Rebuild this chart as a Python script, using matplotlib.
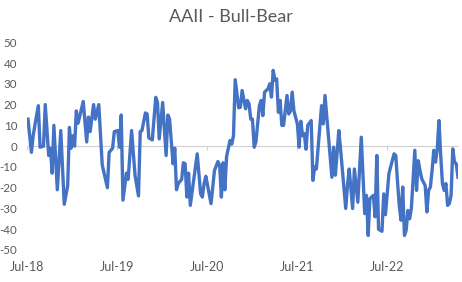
import matplotlib
matplotlib.use('Agg')
import matplotlib.pyplot as plt
import matplotlib.dates as mdates
import pandas as pd

# weekly AAII bull-bear spread
start = '2018-07-05'
weeks = [0, 2, 3, 4, 6, 7, 9, 10, 12, 13, 14, 15, 17, 19, 21, 23, 24, 25, 26, 27,
         28, 29, 32, 34, 35, 36, 38, 39, 41, 43, 46, 47, 49, 50, 52, 53, 54, 55, 57, 58,
         60, 62, 64, 65, 66, 68, 69, 70, 72, 74, 75, 76, 78, 80, 81, 82, 84, 85, 86, 87,
         89, 90, 91, 92, 93, 94, 96, 98, 100, 101, 102, 103, 106, 108, 110, 111, 112, 113, 114, 115,
         117, 118, 119, 120, 122, 123, 124, 126, 127, 128, 129, 130, 131, 132, 134, 135, 136, 137, 139, 140,
         141, 142, 143, 144, 145, 146, 147, 148, 150, 151, 152, 153, 154, 156, 157, 158, 159, 160, 161, 162,
         164, 165, 166, 167, 170, 171, 172, 174, 176, 177, 178, 180, 181, 182, 184, 185, 186, 188, 189, 191,
         193, 195, 196, 197, 198, 200, 201, 202, 203, 205, 206, 207, 209, 210, 212, 213, 214, 215, 216, 217,
         218, 219, 220, 221, 222, 224, 225, 226, 227, 228, 230, 231, 232, 233, 234, 235, 236, 237, 238, 239,
         240, 241, 242, 243, 244, 245, 246, 247, 248, 249]
spread = [13, -3, 5, 10, 19.5, -0.5, 0, 20, -4.5, -1, -13, 10, -21, 7.5, -28, -19, 9, -1, 5, 0,
          17, 11, 21.5, 2, 14, 7, 20, 13, 20, -9, -20, -3, -1, 7, 7.5, -0.5, 15, -26, -13, -16,
          7.5, -14, -24, 7, 7.5, 16, 15.5, 4, 3, 23.5, 21, 3.5, 21, -4.5, 15, 13, -8.5, -1, -21, -18,
          -16, -8, -8.5, -24.5, -13, -28.5, -16, -3.7, -23, -24.5, -18, -14.5, -27.7, -11.7, -7.4, -9.3, -24.5, -8, -21, -5,
          2.7, 1, 5, 32, 18.5, 18.75, 26.8, 18, 22, 20.4, 13, 13, -0.5, 2, 19.5, 22, 14.7, 26, 27.6, 30,
          23.6, 36.5, 31.6, 32.4, 16.3, 22, 10, 10, 24.4, 15.5, 17, 26, 17, 10.7, -0.5, 12, 5, 6, -1.5, 10,
          12.3, -16.5, -10, -11, 19.5, 10.7, 24.4, 5, -15, -0.5, -14, 7.5, -1.3, -11, -30, -19, -11, -30, -11, -27,
          4.3, -32.5, -23.7, -43, -25.3, -23.7, -34, -4.5, -40, -41, -23, -33, -13.3, -10, -3.7, -4.5, -17.3, -28.5, -35.7, -19.7,
          -43, -40.5, -31, -35, -30, -2, -21.3, -7, -11.7, -15.7, -19, -31.7, -21.3, -19.7, -11.7, -2, -7.7, -1.3, 12.3, -4.5,
          -18, -21.3, -18, -28.5, -27.7, -23.7, -1.3, -7.7, -8.5, -15]
tick_years = [2018, 2019, 2020, 2021, 2022]

dates = pd.Timestamp(start) + pd.to_timedelta([w * 7 for w in weeks], unit='D')

plt.rcParams['font.family'] = ['Lato', 'DejaVu Sans']
plt.rcParams['axes.unicode_minus'] = False
grey = '#595959'

fig = plt.figure(figsize=(4.62, 2.82), dpi=100)
ax = fig.add_axes([0.0584, 0.1135, 0.9329, 0.7365])
ax.plot(dates, spread, color='#4472C4', lw=2.4, solid_joinstyle='round', zorder=3)

ax.set_ylim(-50, 50)
ax.set_yticks(range(-50, 51, 10))
ax.set_xlim(pd.Timestamp('2018-07-01'), dates[-1])
ticks = [mdates.date2num(pd.Timestamp(y, 7, 1)) for y in tick_years]
ax.set_xticks(ticks)
ax.xaxis.set_major_formatter(mdates.DateFormatter('%b-%y'))

for s in ['top', 'right', 'left']:
    ax.spines[s].set_visible(False)
ax.spines['bottom'].set_position(('data', 0))
ax.spines['bottom'].set_color('#D0D0D0')
ax.tick_params(axis='x', length=3, color='#D0D0D0', labelbottom=False)
ax.tick_params(axis='y', length=0, pad=7, labelsize=8.3, labelcolor=grey)

sec = ax.secondary_xaxis(0.0)
sec.set_xticks(ticks)
sec.xaxis.set_major_formatter(mdates.DateFormatter('%b-%y'))
sec.tick_params(length=0, pad=8, labelsize=9, labelcolor=grey)
sec.spines['bottom'].set_visible(False)

fig.text(0.5, 1 - 16.5 / 282, 'AAII - Bull-Bear', ha='center', va='center',
         fontsize=13, color=grey)

fig.savefig('out.png', dpi=100)
